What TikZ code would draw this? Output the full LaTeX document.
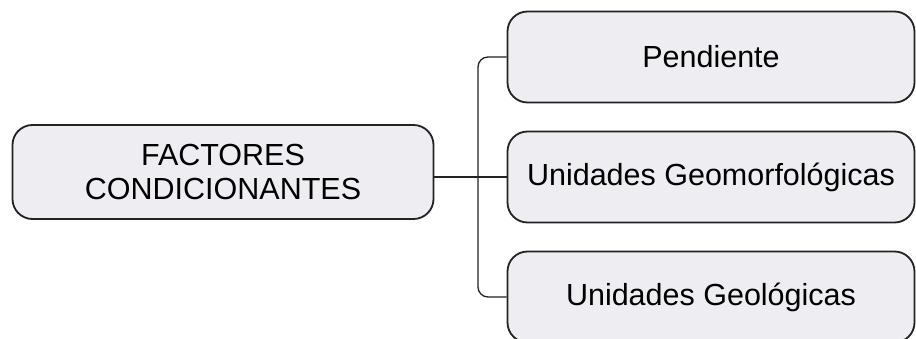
\documentclass[tikz,border=0pt]{standalone}
\usepackage{fontspec}
\setmainfont{Liberation Sans}
\usetikzlibrary{positioning}
\definecolor{inkdark}{HTML}{222222}
\definecolor{boxfill}{HTML}{EEEEF2}
\tikzset{
  cf/.style={rounded corners=20pt, draw=inkdark, line width=1.8pt, fill=boxfill, align=center,
             font=\fontsize{30.5}{33.5}\selectfont, inner sep=0pt},
  cf main/.style={cf, minimum width=421pt, minimum height=94pt},
  cf item/.style={cf, minimum width=407pt, minimum height=91pt},
  cf link/.style={draw=inkdark, line width=1.3pt},
}

\begin{document}
\begin{tikzpicture}[x=1pt, y=-1pt]
  \useasboundingbox (0,0) rectangle (916,339);
  \clip (0,0) rectangle (916,339);
  % root
  \node[cf main] (fc) at (223,172) {FACTORES\\CONDICIONANTES};
  % branches
  \node[cf item] (pend) at (711,57) {Pendiente};
  \node[cf item] (geom) at (711,177) {Unidades Geomorfológicas};
  \node[cf item] (geol) at (711,297) {Unidades Geológicas};
  \coordinate (spine) at (478,177);
  \draw[cf link, line width=2.2pt] (fc.east |- geom.west) -- (geom.west);
  \draw[cf link, rounded corners=10pt] (pend.west) -| (spine |- geol.west) -- (geol.west);
\end{tikzpicture}
\end{document}
